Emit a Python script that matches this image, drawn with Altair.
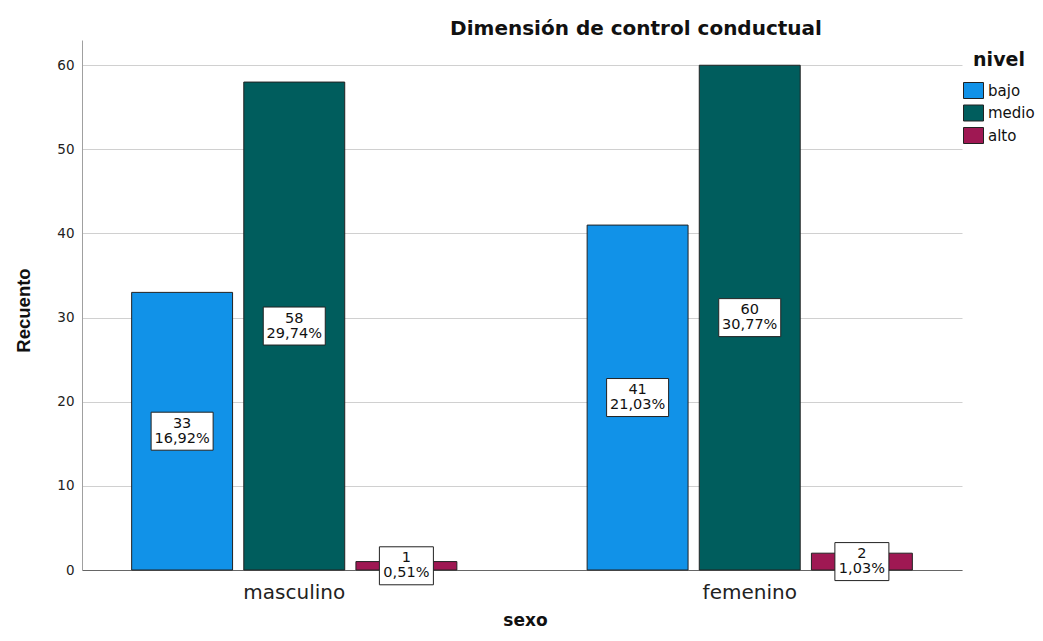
import altair as alt
import pandas as pd

# ---- data ----
sexo_cats = ["masculino", "femenino"]
nivel_cats = ["bajo", "medio", "alto"]
recuento_masculino = [33, 58, 1]
recuento_femenino = [41, 60, 2]
pct_masculino = ["16,92%", "29,74%", "0,51%"]
pct_femenino = ["21,03%", "30,77%", "1,03%"]
colores = ["#1192e8", "#005d5d", "#9f1853"]

rows = []
for s, counts, pcts in [("masculino", recuento_masculino, pct_masculino),
                        ("femenino", recuento_femenino, pct_femenino)]:
    for n, c, p in zip(nivel_cats, counts, pcts):
        rows.append({"sexo": s, "nivel": n, "recuento": c, "pct": p})
df = pd.DataFrame(rows)

FONT = "DejaVu Sans"
BOX_WIDE = "M-31,-19L31,-19L31,19L-31,19Z"
BOX_NARROW = "M-27,-19L27,-19L27,19L-27,19Z"
LEG_SYMBOL = "M-1,-0.8L1,-0.8L1,0.8L-1,0.8Z"

x_enc = alt.X(
    "sexo:N", sort=sexo_cats,
    scale=alt.Scale(paddingInner=0.286, paddingOuter=0.109),
    axis=alt.Axis(
        title="sexo", grid=False, ticks=False, tickSize=0,
        domainColor="#666666", domainWidth=1,
        labelFont=FONT, labelFontSize=20, labelColor="#222222",
        labelPadding=28, labelBaseline="alphabetic", labelAngle=0,
        titleFont=FONT, titleFontSize=17, titleFontWeight="bold",
        titleColor="#111111", titleBaseline="alphabetic",
        titleX=443, titleY=55, titleAlign="center",
    ),
)
xoff_enc = alt.XOffset(
    "nivel:N", sort=nivel_cats,
    scale=alt.Scale(paddingInner=0.1, paddingOuter=0),
)

y_scale = alt.Scale(domain=[0, 63], nice=False, zero=True)
y_axis = alt.Axis(
    title="Recuento", values=[0, 10, 20, 30, 40, 50, 60],
    grid=True, gridColor="#d0d0d0", gridWidth=1,
    ticks=False, tickSize=0,
    domainColor="#a0a0a0", domainWidth=1,
    labelFont=FONT, labelFontSize=13.5, labelColor="#222222",
    labelPadding=8,
    titleFont="Liberation Sans", titleFontSize=18.5,
    titleFontWeight="bold", titleColor="#111111",
    titleX=-53, titleY=270, titleBaseline="alphabetic",
    titleAlign="center", titleAngle=270,
)

base = alt.Chart(df).encode(x=x_enc, xOffset=xoff_enc)

bars = base.mark_bar(stroke="#222222", strokeWidth=1).encode(
    y=alt.Y("recuento:Q", scale=y_scale, axis=y_axis),
    color=alt.Color(
        "nivel:N", sort=nivel_cats,
        scale=alt.Scale(domain=nivel_cats, range=colores),
        legend=alt.Legend(
            title="nivel", orient="none", legendX=881, legendY=11,
            padding=0,
            titleFont=FONT, titleFontSize=19, titleFontWeight="bold",
            titleColor="#111111", titleAnchor="middle", titlePadding=10,
            labelFont=FONT, labelFontSize=15, labelColor="#111111",
            labelOffset=4, rowPadding=1.5,
            symbolType=LEG_SYMBOL, symbolSize=400,
            symbolStrokeColor="#222222", symbolStrokeWidth=1,
            symbolOpacity=1,
        ),
    ),
)

boxes = base.mark_point(
    filled=True, fill="white", stroke="#222222", strokeWidth=1,
    opacity=1, size=4,
).encode(
    y=alt.Y("mid:Q", scale=y_scale, axis=y_axis),
    shape=alt.condition("length(datum.pct) > 5",
                        alt.value(BOX_WIDE), alt.value(BOX_NARROW)),
).transform_calculate(mid="datum.recuento / 2")

labels = base.mark_text(
    lineBreak="\n", font=FONT, fontSize=14.5, lineHeight=15, dy=-7.5,
    color="#111111", baseline="middle", align="center",
).encode(
    y=alt.Y("mid:Q", scale=y_scale, axis=y_axis),
    text=alt.Text("lbl:N"),
).transform_calculate(
    mid="datum.recuento / 2",
    lbl="datum.recuento + '\\n' + datum.pct",
)

chart = alt.layer(bars, boxes, labels).properties(
    width=880, height=530,
    title=alt.TitleParams(
        "Dimensión de control conductual",
        font=FONT, fontSize=20, fontWeight="bold", color="#111111",
        anchor="middle", frame="group", dx=114, dy=24, offset=9,
        baseline="alphabetic",
    ),
    autosize=alt.AutoSizeParams(type="none"),
    padding={"left": 74, "top": 32, "right": 73, "bottom": 60},
).configure(font=FONT, background="white").configure_view(strokeWidth=0)

chart.save("out.html", embed_options={"renderer": "svg", "actions": False})
